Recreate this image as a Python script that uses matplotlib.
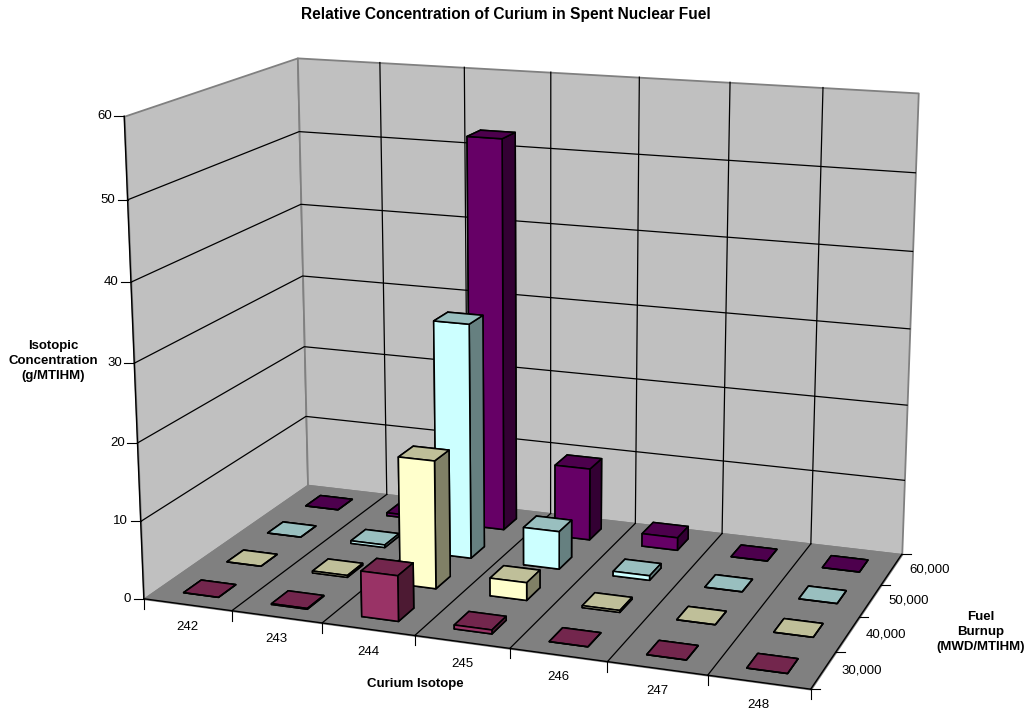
import numpy as np
import matplotlib
matplotlib.use("Agg")
import matplotlib.pyplot as plt
from matplotlib.lines import Line2D
from matplotlib.transforms import IdentityTransform
from mpl_toolkits.mplot3d.art3d import Poly3DCollection

plt.rcParams['font.family'] = ['Liberation Sans', 'DejaVu Sans']

isotopes = ['242', '243', '244', '245', '246', '247', '248']
burnups = ['30,000', '40,000', '50,000', '60,000']
conc_30k = [0.0, 0.1, 5.8, 0.5, 0.0, 0.0, 0.0]
conc_40k = [0.0, 0.25, 16.6, 2.3, 0.25, 0.0, 0.0]
conc_50k = [0.0, 0.35, 31.0, 5.0, 0.6, 0.0, 0.0]
conc_60k = [0.0, 0.4, 52.5, 9.7, 1.7, 0.0, 0.0]
series_values = [conc_30k, conc_40k, conc_50k, conc_60k]
series_colors = ['#993366', '#FFFFCC', '#CCFFFF', '#660066']
z_ticks = [0, 10, 20, 30, 40, 50, 60]

W, H = 1027, 712
BAR = 0.4

# Camera: world (category, series, value) paired with canvas positions.
world = np.array([
    (0, 0, 0), (1, 0, 0), (2, 0, 0), (3, 0, 0), (4, 0, 0), (5, 0, 0), (6, 0, 0), (7, 0, 0),
    (7, 1, 0), (7, 2, 0), (7, 3, 0), (7, 4, 0), (0, 4, 0), (4, 4, 0), (5, 4, 0), (6, 4, 0),
    (0, 0, 60), (0, 0, 50), (0, 4, 60), (0, 4, 50), (0, 4, 40), (7, 4, 60)], float)
canvas = np.array([
    (144, 598.5), (231.7, 610.7), (322.3, 623.3), (415, 635.7), (510, 648.3), (607.3, 661.7), (707.3, 675), (810, 688.7),
    (836.7, 651.7), (860, 617.3), (881.7, 585), (901.7, 554), (307.3, 485), (635, 523.3), (721.7, 533.3), (810.7, 544.3),
    (124, 116), (127.3, 200.3), (297.7, 57.3), (299.3, 131.7), (301, 204.7), (918, 93)], float)


def solve_camera(pts, uv):
    scale = np.array([7.0, 4.0, 60.0])
    rows = []
    for (X, Y, Z), (u, v) in zip(pts / scale, uv / 1000.0):
        rows.append([X, Y, Z, 1, 0, 0, 0, 0, -u * X, -u * Y, -u * Z, -u])
        rows.append([0, 0, 0, 0, X, Y, Z, 1, -v * X, -v * Y, -v * Z, -v])
    P = np.linalg.svd(np.array(rows))[2][-1].reshape(3, 4)
    P = np.diag([1000.0, 1000.0, 1.0]) @ P @ np.diag([1 / 7, 1 / 4, 1 / 60, 1.0])
    if P[2, 3] < 0:
        P = -P
    return P / P[2, 3]


CAM = solve_camera(world, canvas)


def to_canvas(x, y, z):
    u, v, w = CAM @ np.array([x, y, z, 1.0])
    return u / w, v / w


fig = plt.figure(figsize=(W / 100, H / 100), dpi=100, facecolor='white')
ax = fig.add_axes([0, 0, 1, 1], projection='3d')
ax.set_axis_off()
ax.computed_zorder = False
ax.apply_aspect = lambda position=None: None
ax.set_position([0, 0, 1, 1])


def perspective():
    # canvas -> 2D view coordinates of the 3D axes, then depth for sorting
    inv = ax.transData.inverted().get_matrix()
    row_u, row_v, row_w = CAM
    disp_v = H * row_w - row_v
    vx = inv[0, 0] * row_u + inv[0, 1] * disp_v + inv[0, 2] * row_w
    vy = inv[1, 0] * row_u + inv[1, 1] * disp_v + inv[1, 2] * row_w
    return np.array([vx, vy, [0, 0, 0, -1.0], row_w])


ax.get_proj = perspective

nx, ny, zmax = len(isotopes), len(burnups), z_ticks[-1]
GREY = '#808080'

# Walls and floor
panes = [
    ([(0, 0, 0), (0, ny, 0), (0, ny, zmax), (0, 0, zmax)], '#C0C0C0'),
    ([(0, ny, 0), (nx, ny, 0), (nx, ny, zmax), (0, ny, zmax)], '#C0C0C0'),
    ([(0, 0, 0), (nx, 0, 0), (nx, ny, 0), (0, ny, 0)], GREY),
]
for i, (verts, col) in enumerate(panes):
    ax.add_collection3d(Poly3DCollection([verts], facecolors=col, edgecolors=GREY,
                                         linewidths=1.3, zorder=1 + i * 0.01))

# Gridlines
for z in z_ticks[1:-1]:
    ax.plot([0, 0, nx], [0, ny, ny], [z, z, z], color='black', lw=0.9, zorder=2)
for x in range(1, nx):
    ax.plot([x, x], [ny, ny], [0, zmax], color='black', lw=0.9, zorder=2)
    ax.plot([x, x], [0, ny], [0, 0], color='black', lw=0.9, zorder=2)

# Axis lines
ax.plot([0, nx], [0, 0], [0, 0], color='black', lw=1.0, zorder=2.5)
ax.plot([nx, nx], [0, ny], [0, 0], color='black', lw=1.0, zorder=2.5)
ax.plot([0, 0], [0, 0], [0, zmax], color='black', lw=1.0, zorder=2.5)


def shade(col, f):
    r, g, b, _ = matplotlib.colors.to_rgba(col)
    return (r * f, g * f, b * f, 1.0)


# Bars, back row first so that nearer ones cover farther ones
order = 3
for j in range(ny - 1, -1, -1):
    col = series_colors[j]
    top, side = shade(col, 0.75), shade(col, 0.5)
    for i in range(nx):
        ax.bar3d(i + 0.5 - BAR / 2, j + 0.5 - BAR / 2, 0, BAR, BAR, series_values[j][i],
                 color=[top, top, col, side, side, side], shade=False,
                 edgecolor='black', linewidth=1.15, zorder=order)
        order += 1


def tick(x0, y0, x1, y1):
    fig.add_artist(Line2D([x0, x1], [H - y0, H - y1], transform=IdentityTransform(),
                          color='black', lw=0.8))


def label(x, y, s, ha='center', va='center', bold=False, size=9.5):
    fig.text(x / W, 1 - y / H, s, ha=ha, va=va, fontsize=size,
             fontweight='bold' if bold else 'normal', color='black', linespacing=1.29)


for i in range(nx + 1):
    u, v = to_canvas(i, 0, 0)
    tick(u, v, u, v + 10)
for i, s in enumerate(isotopes):
    u, v = to_canvas(i + 0.5, 0, 0)
    label(u, v + 22.5, s)
for j in range(ny + 1):
    u, v = to_canvas(nx, j, 0)
    tick(u, v, u + 9, v)
for j, s in enumerate(burnups):
    u, v = to_canvas(nx, j + 0.5, 0)
    label(u + 38, v, s)
for z in z_ticks:
    u, v = to_canvas(0, 0, z)
    tick(u, v, u - 10, v)
    label(u - 12.5, v, str(z), ha='right')

label(505.5, 15, 'Relative Concentration of Curium in Spent Nuclear Fuel', bold=True, size=11.2)
label(53.5, 361, 'Isotopic\nConcentration\n(g/MTIHM)', bold=True)
label(415.5, 684, 'Curium Isotope', bold=True)
label(981, 632, 'Fuel\nBurnup\n(MWD/MTIHM)', bold=True)

fig.savefig('out.png', dpi=100, facecolor='white')
